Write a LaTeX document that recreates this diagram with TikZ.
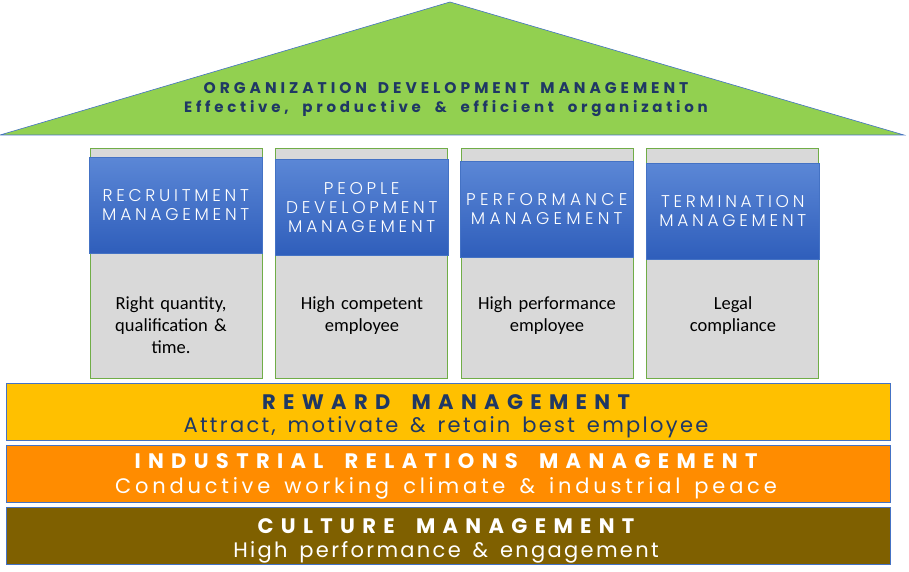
\documentclass[tikz,border=0pt]{standalone}
\usepackage{fontspec}
\setmainfont{Carlito}
\newfontfamily\gothicroof[WordSpace=1.5]{Poppins}
\newfontfamily\gothicroofsub[WordSpace=2]{Poppins}
\newfontfamily\gothichead[WordSpace=1.8]{Poppins}
\newfontfamily\gothicsub[WordSpace=1.5]{Poppins}
\IfFontExistsTF{Poppins Light}{\newfontfamily\gothiclight{Poppins Light}}{\newfontfamily\gothiclight{Poppins}}
\usepackage{tikz}
\usetikzlibrary{positioning}
\definecolor{roofgreen}{HTML}{92D050}
\definecolor{edgeblue}{HTML}{4472C4}
\definecolor{navy}{HTML}{1F3864}
\definecolor{pillargrey}{HTML}{D9D9D9}
\definecolor{pillargreen}{HTML}{70AD47}
\definecolor{captop}{HTML}{5B87D6}
\definecolor{capbot}{HTML}{2F5EBB}
\definecolor{reward}{HTML}{FFC000}
\definecolor{relations}{HTML}{FF8C00}
\definecolor{culture}{HTML}{7F6000}
\tikzset{
  roof/.style={fill=roofgreen, draw=edgeblue, line width=0.6pt},
  roofhead/.style={anchor=base, inner sep=0pt, text=navy, font=\gothicroof\bfseries\fontsize{15.5}{18}\selectfont\addfontfeatures{LetterSpace=25.5}},
  roofsub/.style={anchor=base, inner sep=0pt, text=navy, font=\gothicroofsub\bfseries\fontsize{15}{18}\selectfont\addfontfeatures{LetterSpace=25}},
  pillar/.style={rectangle, draw=pillargreen, line width=0.9pt, fill=pillargrey, minimum width=172pt, minimum height=230pt, anchor=north west, inner sep=0pt},
  header/.style={rectangle, draw=edgeblue, line width=0.5pt, top color=captop, bottom color=capbot, minimum width=173pt, minimum height=96pt, anchor=north west, inner sep=0pt, align=center, text=white, font=\gothiclight\fontsize{17}{19}\selectfont\addfontfeatures{LetterSpace=#1}},
  header/.default=22,
  note/.style={anchor=base, inner sep=0pt, align=center, text width=165pt, font=\fontsize{18.5}{22}\selectfont},
  band/.style={rectangle, draw=edgeblue, line width=0.8pt, minimum width=884pt, minimum height=57pt, anchor=north west, inner sep=0pt},
  bandhead/.style={anchor=base, inner sep=0pt, font=\gothichead\bfseries\fontsize{21}{24}\selectfont\addfontfeatures{LetterSpace=35}},
  bandsub/.style={anchor=base, inner sep=0pt, font=\gothicsub\fontsize{21}{24}\selectfont\addfontfeatures{LetterSpace=#1}},
  bandsub/.default=11,
}
\begin{document}
\begin{tikzpicture}[x=1pt, y=-1pt]
\useasboundingbox (0,0) rectangle (909,572);
% roof
\draw[roof] (0,135) -- (450,2) -- (904,135) -- cycle;
\node[roofhead] (orghead) at (446,94) {ORGANIZATION DEVELOPMENT MANAGEMENT};
\node[roofsub] (orgsub) at (446,113) {Effective, productive \& efficient organization};

% pillars
\node[pillar] (col1) at (90,148) {};
\node[pillar] (col2) at (275,148) {};
\node[pillar] (col3) at (461,148) {};
\node[pillar] (col4) at (646,148) {};
\node[header] (head1) at (89,157) {RECRUITMENT\\MANAGEMENT};
\node[header] (head2) at (275,159) {PEOPLE\\DEVELOPMENT\\MANAGEMENT};
\node[header=25] (head3) at (460,161) {PERFORMANCE\\MANAGEMENT};
\node[header] (head4) at (646,163) {TERMINATION\\MANAGEMENT};
\node[note] (goal1) at (171,309) {Right quantity,\\qualification \&\\time.};
\node[note] (goal2) at (362,309) {High competent\\employee};
\node[note] (goal3) at (547,309) {High performance\\employee};
\node[note] (goal4) at (733,309) {Legal\\compliance};

% foundation
\node[band, fill=reward] (rew) at (6,383) {};
\node[bandhead, text=navy] (rewhead) at (446,409) {REWARD MANAGEMENT};
\node[bandsub, text=navy] (rewsub) at (446,432) {Attract, motivate \& retain best employee};
\node[band, fill=relations] (rel) at (6,445) {};
\node[bandhead, text=white] (relhead) at (446,468) {INDUSTRIAL RELATIONS MANAGEMENT};
\node[bandsub=18, text=white] (relsub) at (446,493) {Conductive working climate \& industrial peace};
\node[band, fill=culture] (cul) at (6,507) {};
\node[bandhead, text=white] (culhead) at (446,533) {CULTURE MANAGEMENT};
\node[bandsub, text=white] (culsub) at (446,557) {High performance \& engagement};
\end{tikzpicture}
\end{document}
